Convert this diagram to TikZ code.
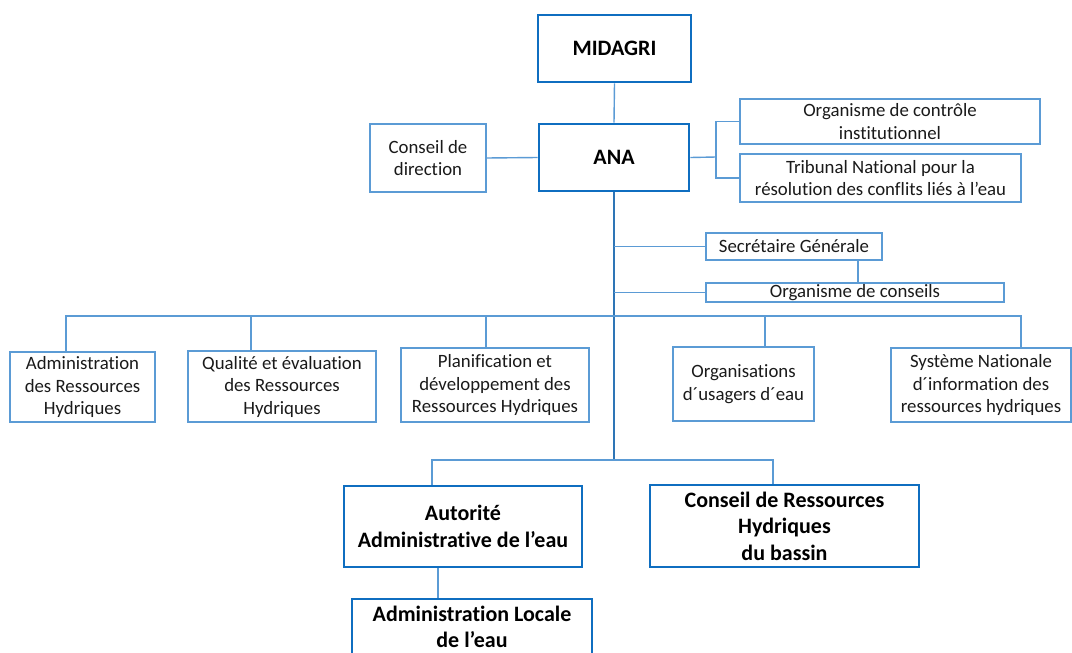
\documentclass[tikz,border=0pt]{standalone}
\usepackage{fontspec}
\setmainfont{Carlito}[Ligatures=NoCommon]
\definecolor{dk}{HTML}{0F6EC0}
\definecolor{lt}{HTML}{5B9BD5}
\definecolor{tr}{HTML}{2E75B6}
\definecolor{txt}{HTML}{1A1A1A}
\begin{document}
\begin{tikzpicture}[x=1pt,y=-1pt,
  thick box/.style={draw=dk,line width=2.8pt,inner sep=0pt,align=center,text=black,
    font=\fontsize{22}{26.5}\selectfont\bfseries},
  thin box/.style={draw=lt,line width=1.4pt,inner sep=0pt,align=center,text=txt,
    font=\fontsize{18.8}{22.5}\selectfont},
  conn/.style={draw=lt,line width=1.4pt},
  trunk/.style={draw=tr,line width=1.8pt}]
\useasboundingbox (0,0) rectangle (1072,653);
\clip (0,0) rectangle (1072,653);
\fill[white] (0,0) rectangle (1072,653);
% nodes
\node[thick box,minimum width=153pt,minimum height=67pt] (mid) at (614.5,48.5) {MIDAGRI};
\node[thick box,minimum width=150pt,minimum height=67pt] (ana) at (614,157.5) {ANA};
\node[thin box,minimum width=116pt,minimum height=68pt] (cd) at (428,158) {Conseil de\\direction};
\node[thin box,minimum width=300pt,minimum height=45pt] (oc) at (890,121.5) {Organisme de contrôle\\institutionnel};
\node[thin box,minimum width=281pt,minimum height=48pt] (tri) at (880.5,178) {Tribunal National pour la\\résolution des conflits liés à l’eau};
\node[thin box,minimum width=176pt,minimum height=27pt] (sec) at (794,246.5) {Secrétaire Générale};
\node[thin box,minimum width=298pt,minimum height=19pt] (ocs) at (855,292.5) {Organisme de conseils};
\node[thin box,minimum width=145pt,minimum height=70pt] (adm) at (82.5,387) {Administration\\des Ressources\\Hydriques};
\node[thin box,minimum width=188pt,minimum height=71pt] (qua) at (282,386.5) {Qualité et évaluation\\des Ressources\\Hydriques};
\node[thin box,minimum width=188pt,minimum height=74pt] (pla) at (495,385) {Planification et\\développement des\\Ressources Hydriques};
\node[thin box,minimum width=141pt,minimum height=74pt] (ous) at (743.5,384) {Organisations\\d´usagers d´eau};
\node[thin box,minimum width=180pt,minimum height=74pt] (sys) at (981,385) {Système Nationale\\d´information des\\ressources hydriques};
\node[thick box,minimum width=238pt,minimum height=81pt] (aut) at (463,526.5) {Autorité\\Administrative de l’eau};
\node[thick box,minimum width=269pt,minimum height=82pt] (crh) at (784.5,526) {Conseil de Ressources\\Hydriques\\du bassin};
\node[thick box,minimum width=240pt,minimum height=56pt] (alo) at (472,627) {Administration Locale\\de l’eau};
% coordinates
\coordinate (br) at (716,157);
\coordinate (bus) at (614,316);
\coordinate (low) at (614,460);
% connectors
\draw[conn] (mid.south) -- (ana.north);
\draw[conn] (cd.east) -- (ana.west);
\draw[conn] (ana.east) -- (br);
\draw[conn] (oc.west) -| (br);
\draw[conn] (tri.west) -| (br);
\draw[trunk] (ana.south) -- (low);
\draw[conn] (sec.west) -- (sec.west -| ana.south);
\draw[conn] (ocs.west) -- (ocs.west -| ana.south);
\draw[conn] ([xshift=64pt]sec.south) -- ([xshift=64pt]sec.south |- ocs.north);
\draw[conn] ([xshift=-16.5pt]adm.north) |- (bus) -| ([xshift=40pt]sys.north);
\draw[conn] ([xshift=-31pt]qua.north) -- ([xshift=-31pt]qua.north |- bus);
\draw[conn] ([xshift=-9pt]pla.north) -- ([xshift=-9pt]pla.north |- bus);
\draw[conn] ([xshift=21.5pt]ous.north) -- ([xshift=21.5pt]ous.north |- bus);
\draw[conn] ([xshift=-31pt]aut.north) |- (low) -| ([xshift=-11.5pt]crh.north);
\draw[conn] ([xshift=-25pt]aut.south) -- ([xshift=-25pt]aut.south |- alo.north);
\end{tikzpicture}
\end{document}
